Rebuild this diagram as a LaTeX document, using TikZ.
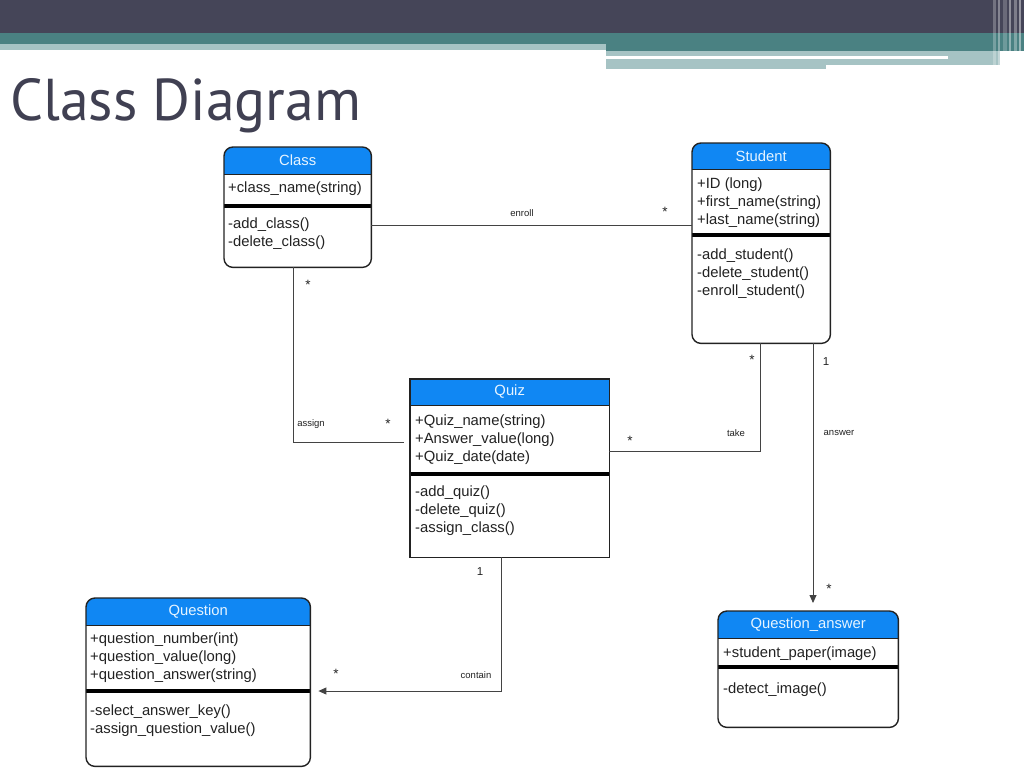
\documentclass[tikz,border=0pt]{standalone}
\usepackage{fontspec}
\setmainfont{Liberation Sans}
\newfontfamily\titlefont{PT Sans}
\usetikzlibrary{positioning, calc}
\usetikzlibrary{arrows.meta}

\definecolor{navy}{HTML}{454558}
\definecolor{tealdark}{HTML}{4A8182}
\definecolor{teallight}{HTML}{A6C3C4}
\definecolor{hdrblue}{HTML}{1087F3}
\definecolor{hdrtxt}{HTML}{E6F4FF}
\definecolor{ink}{HTML}{222222}
\definecolor{titlegray}{HTML}{404052}

\begin{document}
\begin{tikzpicture}[x=1pt,y=-1pt]
 	\tikzstyle{box}=[anchor=north west,inner sep=0pt,fill=white]
 	\tikzstyle{outline}=[draw=ink,line width=1.4pt]
 	\tikzstyle{hline}=[draw=ink,line width=0.9pt]
 	\tikzstyle{sep}=[draw=black,line width=3.5pt]
 	\tikzstyle{hdrtext}=[text=hdrtxt,inner sep=0pt,font=\fontsize{14.8}{18}\selectfont]
 	\tikzstyle{member}=[anchor=north west,align=left,inner sep=0pt,text=ink,font=\fontsize{14.8}{18}\selectfont]
 	\tikzstyle{assoc}=[draw=ink!85,line width=0.85pt]
 	\tikzstyle{annot}=[inner sep=0pt,text=ink,font=\fontsize{9.5}{11}\selectfont]
 	\tikzstyle{mult}=[inner sep=0pt,text=ink,font=\fontsize{13.5}{14}\selectfont]
 	\tikzstyle{one}=[inner sep=0pt,text=ink,font=\fontsize{11.5}{12}\selectfont]
 	\useasboundingbox (0,0) rectangle (1024,768);
 	\fill[white] (0,0) rectangle (1024,768);

 	% banner
 	\fill[navy] (0,0) rectangle (1024,33);
 	\fill[tealdark] (0,33) rectangle (1024,44);
 	\fill[teallight] (0,44) rectangle (606,50);
 	\fill[tealdark] (606,44) rectangle (1024,51);
 	\fill[teallight] (606,51) rectangle (1000,65);
 	\fill[teallight] (606,65) rectangle (826,69);
 	\fill[white] (606,56) rectangle (948,58.5);
 	\foreach \x/\w/\o in {993/3/0.25, 998/2/0.35, 1003/4/0.2, 1009/2/0.4, 1014/3/0.3, 1019/2/0.45}
 		\fill[white,opacity=\o] (\x,0) rectangle (\x+\w,68);
 	\node[anchor=base west,inner sep=0pt,text=titlegray,font=\titlefont\fontsize{59}{62}\selectfont,xscale=0.98] (title) at (10,120) {Class Diagram};

 	% class box
 	\node[box,minimum width=147pt,minimum height=120pt,rounded corners=9pt] (class) at (224,147) {};
 	\begin{scope}
 		\clip[rounded corners=9pt] (class.north west) rectangle (class.south east);
 		\fill[hdrblue] (class.north west) rectangle ($(class.north east)+(0,27)$);
 	\end{scope}
 	\draw[hline] ($(class.north west)+(0,27)$) -- ++(147,0);
 	\draw[sep] ($(class.north west)+(0,59)$) -- ++(147,0);
 	\draw[outline,rounded corners=9pt] (class.north west) rectangle (class.south east);
 	\node[hdrtext] (class-title) at ($(class.north)+(0,13.5)$) {Class};
 	\node[member] (class-attr) at ($(class.north west)+(4,33)$) {\strut+class\_name(string)};
 	\node[member] (class-meth) at ($(class.north west)+(4,69)$) {\strut-add\_class()\\-delete\_class()};

 	% student box
 	\node[box,minimum width=138pt,minimum height=200pt,rounded corners=9pt] (student) at (692,143) {};
 	\begin{scope}
 		\clip[rounded corners=9pt] (student.north west) rectangle (student.south east);
 		\fill[hdrblue] (student.north west) rectangle ($(student.north east)+(0,26)$);
 	\end{scope}
 	\draw[hline] ($(student.north west)+(0,26)$) -- ++(138,0);
 	\draw[sep] ($(student.north west)+(0,92)$) -- ++(138,0);
 	\draw[outline,rounded corners=9pt] (student.north west) rectangle (student.south east);
 	\node[hdrtext] (student-title) at ($(student.north)+(0,13)$) {Student};
 	\node[member] (student-attr) at ($(student.north west)+(5,33)$) {\strut+ID (long)\\+first\_name(string)\\+last\_name(string)};
 	\node[member] (student-meth) at ($(student.north west)+(5,104)$) {\strut-add\_student()\\-delete\_student()\\-enroll\_student()};

 	% quiz box
 	\node[box,minimum width=199pt,minimum height=178pt] (quiz) at (410,379) {};
 	\fill[hdrblue] (quiz.north west) rectangle ($(quiz.north east)+(0,26)$);
 	\draw[hline] ($(quiz.north west)+(0,26)$) -- ++(199,0);
 	\draw[sep] ($(quiz.north west)+(0,95)$) -- ++(199,0);
 	\draw[outline] (quiz.north west) rectangle (quiz.south east);
 	\node[hdrtext] (quiz-title) at ($(quiz.north)+(0,13)$) {Quiz};
 	\node[member] (quiz-attr) at ($(quiz.north west)+(5,34)$) {\strut+Quiz\_name(string)\\+Answer\_value(long)\\+Quiz\_date(date)};
 	\node[member] (quiz-meth) at ($(quiz.north west)+(5,105)$) {\strut-add\_quiz()\\-delete\_quiz()\\-assign\_class()};

 	% question box
 	\node[box,minimum width=224pt,minimum height=168pt,rounded corners=9pt] (question) at (86,598) {};
 	\begin{scope}
 		\clip[rounded corners=9pt] (question.north west) rectangle (question.south east);
 		\fill[hdrblue] (question.north west) rectangle ($(question.north east)+(0,27)$);
 	\end{scope}
 	\draw[hline] ($(question.north west)+(0,27)$) -- ++(224,0);
 	\draw[sep] ($(question.north west)+(0,93)$) -- ++(224,0);
 	\draw[outline,rounded corners=9pt] (question.north west) rectangle (question.south east);
 	\node[hdrtext] (question-title) at ($(question.north)+(0,13.5)$) {Question};
 	\node[member] (question-attr) at ($(question.north west)+(4,33)$) {\strut+question\_number(int)\\+question\_value(long)\\+question\_answer(string)};
 	\node[member] (question-meth) at ($(question.north west)+(4,105)$) {\strut-select\_answer\_key()\\-assign\_question\_value()};

 	% question_answer box
 	\node[box,minimum width=180pt,minimum height=116pt,rounded corners=9pt] (qanswer) at (718,611) {};
 	\begin{scope}
 		\clip[rounded corners=9pt] (qanswer.north west) rectangle (qanswer.south east);
 		\fill[hdrblue] (qanswer.north west) rectangle ($(qanswer.north east)+(0,27)$);
 	\end{scope}
 	\draw[hline] ($(qanswer.north west)+(0,27)$) -- ++(180,0);
 	\draw[sep] ($(qanswer.north west)+(0,56)$) -- ++(180,0);
 	\draw[outline,rounded corners=9pt] (qanswer.north west) rectangle (qanswer.south east);
 	\node[hdrtext] (qanswer-title) at ($(qanswer.north)+(0,13.5)$) {Question\_answer};
 	\node[member] (qanswer-attr) at ($(qanswer.north west)+(5,34)$) {\strut+student\_paper(image)};
 	\node[member] (qanswer-meth) at ($(qanswer.north west)+(5,70)$) {\strut-detect\_image()};

 	% connectors
 	\coordinate (enroll-c) at (0,225);
 	\coordinate (assign-c) at (293,442);
 	\coordinate (take-c) at (760,451);
 	\coordinate (answer-c) at (813,0);
 	\coordinate (contain-c) at (501,691);
 	\draw[assoc] (class.east |- enroll-c) -- (student.west |- enroll-c);
 	\draw[assoc,shorten >=6pt] (class.south -| assign-c) |- (quiz.west |- assign-c);
 	\draw[assoc] (quiz.east |- take-c) -| (student.south -| take-c);
 	\draw[assoc,-{Triangle[width=7pt,length=8pt]},shorten >=8pt] (student.south -| answer-c) -- (qanswer.north -| answer-c);
 	\draw[assoc,-{Triangle[width=7pt,length=8pt]},shorten >=8pt] (quiz.south -| contain-c) |- (question.east |- contain-c);

 	% labels
 	\node[annot] (enroll-label) at (522,213) {enroll};
 	\node[annot] (assign-label) at (311,424) {assign};
 	\node[annot] (take-label) at (736,433) {take};
 	\node[annot] (answer-label) at (839,433) {answer};
 	\node[annot] (contain-label) at (476,675) {contain};
 	\node[mult] (m-enroll) at (665,212) {*};
 	\node[mult] (m-class) at (308,285) {*};
 	\node[mult] (m-assign) at (388,424) {*};
 	\node[mult] (m-take-q) at (630,441) {*};
 	\node[mult] (m-take-s) at (752,360) {*};
 	\node[one] (m-answer-s) at (826,362) {1};
 	\node[mult] (m-answer-q) at (829,589) {*};
 	\node[one] (m-contain-q) at (480,572) {1};
 	\node[mult] (m-contain-p) at (336,674) {*};
 \end{tikzpicture}
\end{document}
